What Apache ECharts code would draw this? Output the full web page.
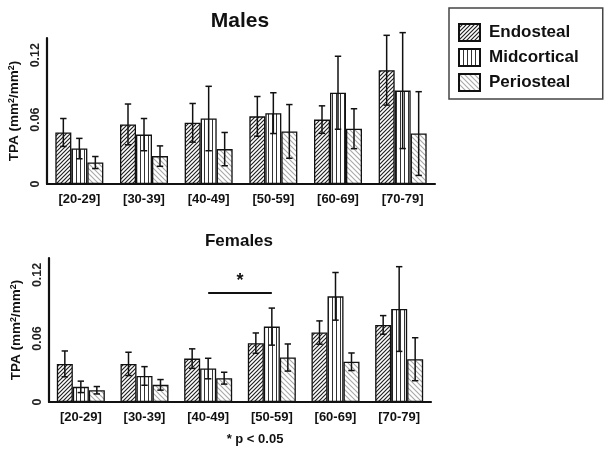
<!DOCTYPE html>
<html>
<head>
<meta charset="utf-8">
<script src="https://cdn.jsdelivr.net/npm/echarts@6/dist/echarts.min.js"></script>
<style>html,body{margin:0;padding:0;background:#fff}#c{width:611px;height:452px}</style>
</head>
<body>
<div id="c"></div>
<script>
// ---- data ----
const categories = ['[20-29]', '[30-39]', '[40-49]', '[50-59]', '[60-69]', '[70-79]'];
const seriesNames = ['Endosteal', 'Midcortical', 'Periosteal'];
const yTickValues = [0, 0.06, 0.12];
const yTickLabels = ['0', '0.06', '0.12'];

const maleEndo = [0.048, 0.0555, 0.057, 0.063, 0.060, 0.106];
const maleEndoSd = [0.013, 0.019, 0.018, 0.0185, 0.0128, 0.0325];
const maleMid = [0.033, 0.046, 0.061, 0.066, 0.085, 0.087];
const maleMidSd = [0.0095, 0.015, 0.030, 0.019, 0.034, 0.054];
const malePeri = [0.020, 0.026, 0.0325, 0.049, 0.0515, 0.047];
const malePeriSd = [0.0056, 0.0095, 0.0155, 0.025, 0.0186, 0.039];

const femaleEndo = [0.036, 0.036, 0.041, 0.0556, 0.0656, 0.0728];
const femaleEndoSd = [0.0122, 0.011, 0.0092, 0.0096, 0.011, 0.0088];
const femaleMid = [0.0143, 0.0246, 0.0316, 0.0712, 0.0998, 0.0878];
const femaleMidSd = [0.0054, 0.0088, 0.0097, 0.0175, 0.0225, 0.040];
const femalePeri = [0.0111, 0.0162, 0.0225, 0.042, 0.038, 0.0404];
const femalePeriSd = [0.0035, 0.005, 0.0056, 0.0128, 0.0083, 0.0203];

// significance bracket (Midcortical [40-49] vs [50-59], females)
const sigFrom = 2, sigTo = 3, sigY = 0.103, sigMark = '*';
const noteText = '* p < 0.05';

// ---- styling ----
const FONT = '"Liberation Sans", Arial, Helvetica, sans-serif';
const BAR_W = 16;

function makePattern(kind) {
  const s = kind === 'mid' ? 4 : (kind === 'endo' ? 4 : 5);
  const c = document.createElement('canvas');
  c.width = s; c.height = s;
  const g = c.getContext('2d');
  g.fillStyle = '#fff'; g.fillRect(0, 0, s, s);
  g.beginPath();
  if (kind === 'endo') {
    g.strokeStyle = '#222'; g.lineWidth = 1.2;
    g.moveTo(-1, s + 1); g.lineTo(s + 1, -1);
    g.moveTo(-1, 1); g.lineTo(1, -1);
    g.moveTo(s - 1, s + 1); g.lineTo(s + 1, s - 1);
  } else if (kind === 'peri') {
    g.strokeStyle = '#a8a8a8'; g.lineWidth = 1.1;
    g.moveTo(-1, -1); g.lineTo(s + 1, s + 1);
    g.moveTo(s - 1, -1); g.lineTo(s + 1, 1);
    g.moveTo(-1, s - 1); g.lineTo(1, s + 1);
  } else {
    g.strokeStyle = '#333'; g.lineWidth = 1;
    g.moveTo(0.5, 0); g.lineTo(0.5, s);
  }
  g.stroke();
  return { image: c, repeat: 'repeat' };
}
const patterns = [makePattern('endo'), makePattern('mid'), makePattern('peri')];

function errRender(offset) {
  return function (params, api) {
    const cat = api.value(0);
    const x = api.coord([cat, api.value(1)])[0] + offset;
    const yHi = api.coord([cat, api.value(2)])[1];
    const yLo = api.coord([cat, api.value(3)])[1];
    const st = { stroke: '#111', lineWidth: 1.5 };
    const cap = 3.2;
    return {
      type: 'group', children: [
        { type: 'line', shape: { x1: x, y1: yHi, x2: x, y2: yLo }, style: st },
        { type: 'line', shape: { x1: x - cap, y1: yHi, x2: x + cap, y2: yHi }, style: st },
        { type: 'line', shape: { x1: x - cap, y1: yLo, x2: x + cap, y2: yLo }, style: st }
      ]
    };
  };
}

const groups = [
  { means: [maleEndo, maleMid, malePeri], sds: [maleEndoSd, maleMidSd, malePeriSd] },
  { means: [femaleEndo, femaleMid, femalePeri], sds: [femaleEndoSd, femaleMidSd, femalePeriSd] }
];

const series = [];
groups.forEach((grp, gi) => {
  grp.means.forEach((vals, si) => {
    series.push({
      type: 'bar', name: seriesNames[si], xAxisIndex: gi, yAxisIndex: gi,
      data: vals, barWidth: BAR_W, barGap: '0%',
      itemStyle: { color: patterns[si], borderColor: '#111', borderWidth: 1.3 },
      emphasis: { disabled: true }, z: 2
    });
  });
  grp.means.forEach((vals, si) => {
    series.push({
      type: 'custom', name: 'err' + gi + si, xAxisIndex: gi, yAxisIndex: gi,
      renderItem: errRender((si - 1) * BAR_W),
      data: vals.map((v, i) => [i, v, v + grp.sds[si][i], v - grp.sds[si][i]]),
      z: 5, clip: false, silent: true
    });
  });
});

series.push({
  type: 'custom', name: 'sig', xAxisIndex: 1, yAxisIndex: 1, clip: false, silent: true, z: 6,
  data: [[sigFrom, sigTo, sigY]],
  renderItem: function (params, api) {
    const p1 = api.coord([api.value(0), api.value(2)]);
    const p2 = api.coord([api.value(1), api.value(2)]);
    return {
      type: 'group', children: [
        { type: 'line', shape: { x1: p1[0], y1: p1[1], x2: p2[0], y2: p2[1] }, style: { stroke: '#111', lineWidth: 2 } },
        { type: 'text', x: (p1[0] + p2[0]) / 2, y: p1[1] - 3,
          style: { text: sigMark, font: 'bold 18px ' + FONT, fill: '#111', align: 'center', verticalAlign: 'bottom' } }
      ]
    };
  }
});

function xAxis(gi) {
  return {
    type: 'category', gridIndex: gi, data: categories,
    axisLine: { lineStyle: { color: '#111', width: 2.2 } },
    axisTick: { show: false },
    axisLabel: { color: '#111', fontFamily: FONT, fontWeight: 'bold', fontSize: 13, margin: 9 }
  };
}
function yAxis(gi) {
  return {
    type: 'value', gridIndex: gi, min: 0, max: 0.136, interval: 0.06,
    splitLine: { show: false },
    axisLine: { show: true, lineStyle: { color: '#111', width: 2.2 } },
    axisTick: { show: false },
    axisLabel: {
      rotate: 90, margin: 5, color: '#222', fontFamily: FONT, fontWeight: 'bold', fontSize: 12.5,
      formatter: v => { const k = yTickValues.findIndex(t => Math.abs(t - v) < 1e-9); return k >= 0 ? yTickLabels[k] : ''; }
    },
    name: 'TPA (mm{s|2}/mm{s|2})', nameLocation: 'middle', nameGap: 25,
    nameTextStyle: {
      color: '#111', fontFamily: FONT, fontWeight: 'bold', fontSize: 13.5,
      rich: { s: { fontSize: 9, fontWeight: 'bold', fontFamily: FONT, color: '#111', verticalAlign: 'top', padding: [0, 0, 6, 0] } }
    }
  };
}

const option = {
  backgroundColor: '#fff',
  animation: false,
  title: [
    { text: 'Males', left: 240, top: 11, textAlign: 'center', padding: 0,
      textStyle: { fontFamily: FONT, fontWeight: 'bold', fontSize: 21, color: '#111' } },
    { text: 'Females', left: 239, top: 233, textAlign: 'center', padding: 0,
      textStyle: { fontFamily: FONT, fontWeight: 'bold', fontSize: 17, color: '#111' } },
    { text: noteText, left: 255, top: 433, textAlign: 'center', padding: 0,
      textStyle: { fontFamily: FONT, fontWeight: 'bold', fontSize: 13, color: '#111' } }
  ],
  legend: {
    data: seriesNames, orient: 'vertical', left: 449, top: 8,
    icon: 'rect', itemWidth: 21, itemHeight: 17, itemGap: 6,
    borderColor: '#444', borderWidth: 1.5, padding: [15, 24, 7, 9],
    selectedMode: false,
    textStyle: { fontFamily: FONT, fontWeight: 'bold', fontSize: 17, color: '#111', padding: [0, 0, 0, 4] }
  },
  grid: [
    { left: 47, width: 388, top: 38, height: 146, containLabel: false, outerBoundsMode: 'none' },
    { left: 49, width: 382, top: 258, height: 144, containLabel: false, outerBoundsMode: 'none' }
  ],
  xAxis: [xAxis(0), xAxis(1)],
  yAxis: [yAxis(0), yAxis(1)],
  series: series
};

const chart = echarts.init(document.getElementById('c'), null, { renderer: 'canvas' });
chart.setOption(option);
</script>
</body>
</html>
